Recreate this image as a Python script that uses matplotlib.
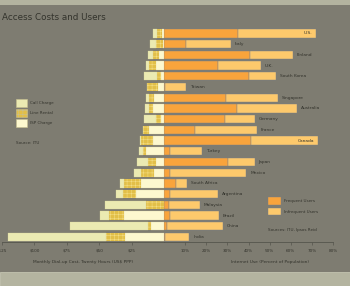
import matplotlib
matplotlib.use("Agg")
import matplotlib.pyplot as plt
from matplotlib.patches import Rectangle, Patch
import numpy as np

# countries, top to bottom
countries = ["U.S.", "Italy", "Finland", "U.K.", "South Korea", "Taiwan", "Singapore",
             "Australia", "Germany", "France", "Canada", "Turkey", "Japan", "Mexico",
             "South Africa", "Argentina", "Malaysia", "Brazil", "China", "India"]

# monthly dial-up cost, twenty hours (US$ PPP)
isp_charge = [1.5, 1, 4, 6, 2.5, 4.5, 7.5, 8.5, 2.5, 11.5, 8.5, 14, 6, 7.5, 18, 21.5, 0, 31, 10, 30]
line_rental = [4, 5.5, 4.5, 5.5, 3, 9, 4, 3, 4, 4.5, 9, 2.5, 6, 10, 13, 10, 14, 11.5, 2.5, 14.5]
call_charge = [3, 4, 4, 2.5, 10, 0, 2.5, 3, 9, 0.5, 1, 3, 9, 5.5, 3, 5.5, 31.5, 7, 60, 76]

# internet use (percent of population)
frequent = [35, 10.5, 40.5, 25.5, 40, 0.7, 29.5, 34.5, 29, 14.5, 41, 3, 30.5, 3, 5.5, 3, 2.5, 3, 1.5, 0.5]
infrequent = [37, 21, 20.5, 20.5, 13, 9.6, 24.5, 28.5, 14, 29.5, 32, 15, 12.5, 36, 5.5, 22.5, 14.5, 23, 26.5, 11.5]

cost_ticks = [25, 50, 75, 100, 125]
use_ticks = [10, 20, 30, 40, 50, 60, 70, 80]

bg = "#7e7c71"
txt = "#33332c"
c_call = "#ebeab2"
c_line = "#e2bf48"
c_isp = "#fdf8cf"
c_freq = "#f9a43c"
c_infreq = "#fdc96c"

plt.rcParams["hatch.linewidth"] = 0.4

fig = plt.figure(figsize=(3.5, 2.86), dpi=100, facecolor=bg)
W, H = 350, 286

# light bands top and bottom
fig.patches.append(Rectangle((0, 1 - 5 / H), 1, 5 / H, transform=fig.transFigure,
                             facecolor="#b3b39f", edgecolor="none"))
fig.patches.append(Rectangle((0, 0), 1, 14 / H, transform=fig.transFigure,
                             facecolor="#b4b4a0", edgecolor="#c4c4b0", linewidth=0.6))

fig.text(2 / W, 1 - 18 / H, "Access Costs and Users", fontsize=6.3, color=txt,
         va="center", ha="left")

y = np.arange(len(countries))
isp = np.array(isp_charge)
line = np.array(line_rental)
call = np.array(call_charge)
freq = np.array(frequent)
infreq = np.array(infrequent)

axL = fig.add_axes([2 / W, 44 / H, 162 / W, 215 / H])
axR = fig.add_axes([164 / W, 44 / H, 169 / W, 215 / H])

hL1 = axL.barh(y, isp, height=0.78, color=c_isp, edgecolor="#d8d0a0", linewidth=0.2)
hL2 = axL.barh(y, line, left=isp, height=0.78, color=c_line, edgecolor="#f3dc80",
               linewidth=0, hatch="++++")
hL3 = axL.barh(y, call, left=isp + line, height=0.78, color=c_call, edgecolor="#d8d49a",
               linewidth=0.2)
axL.set_xlim(125, 0)

hR1 = axR.barh(y, freq, height=0.78, color=c_freq, edgecolor="#77808c", linewidth=0.3)
hR2 = axR.barh(y, infreq, left=freq, height=0.78, color=c_infreq, edgecolor="#77808c",
               linewidth=0.3)
axR.set_xlim(0, 80)

for i, name in enumerate(countries):
    total = freq[i] + infreq[i]
    if total > 65:
        axR.text(total - 2, i, name, fontsize=3.2, color=txt, va="center", ha="right")
    else:
        axR.text(total + 1.8, i, name, fontsize=3.2, color=txt, va="center", ha="left")

for ax in (axL, axR):
    ax.set_facecolor("none")
    ax.set_ylim(len(countries) - 0.53, -0.6)
    ax.set_yticks([])
    for s in ("top", "left", "right"):
        ax.spines[s].set_visible(False)
    ax.spines["bottom"].set_color("#55554c")
    ax.spines["bottom"].set_linewidth(0.6)
    ax.tick_params(axis="x", length=2, width=0.5, color="#55554c", labelsize=3,
                   labelcolor=txt, pad=3)

axL.set_xticks(cost_ticks)
axL.set_xticklabels(["$%d" % v for v in cost_ticks])
axL.set_xlabel("Monthly Dial-up Cost, Twenty Hours (US$ PPP)", fontsize=3.2, color=txt,
               labelpad=3)

axR.set_xticks(use_ticks)
axR.set_xticklabels(["%d%%" % v for v in use_ticks])
axR.set_xlabel("Internet Use (Percent of Population)", fontsize=3.2, color=txt, labelpad=3)
axR.xaxis.set_label_coords(0.627, -0.085)
axL.xaxis.set_label_coords(0.5, -0.085)

# legends
legL = axL.legend([hL3, hL2, hL1], ["Call Charge", "Line Rental", "ISP Charge"],
                  loc="upper left", bbox_to_anchor=(16 / W, 1 - 99 / H),
                  bbox_transform=fig.transFigure, frameon=False, fontsize=3,
                  handlelength=2.6, handleheight=2.4, labelspacing=0.6,
                  handletextpad=0.7, borderpad=0, borderaxespad=0, labelcolor=txt)
for h in legL.legend_handles:
    h.set_edgecolor("#c8c090")
    h.set_linewidth(0.4)
fig.text(16 / W, 1 - 143 / H, "Source: ITU", fontsize=3, color=txt, va="center")

legR = axR.legend([hR1, hR2], ["Frequent Users", "Infrequent Users"],
                  loc="upper left", bbox_to_anchor=(268 / W, 1 - 197 / H),
                  bbox_transform=fig.transFigure, frameon=False, fontsize=3,
                  handlelength=3.2, handleheight=2.4, labelspacing=0.8,
                  handletextpad=0.7, borderpad=0, borderaxespad=0, labelcolor=txt)
fig.text(268 / W, 1 - 230 / H, "Sources: ITU, Ipsos Reid", fontsize=3, color=txt,
         va="center")

fig.savefig("out.png", dpi=100, facecolor=bg)
